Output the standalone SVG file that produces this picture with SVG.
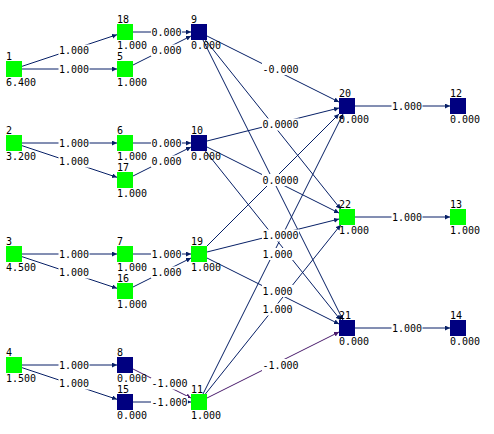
<svg xmlns="http://www.w3.org/2000/svg" width="494" height="434" viewBox="0 0 494 434">
<style>
text{font-family:"DejaVu Sans Mono","Liberation Mono",monospace;font-size:10px;fill:#000}
.g{fill:#00ff00}
.b{fill:#000080}
.e line{stroke:#061f66;stroke-width:1;fill:none;marker-end:url(#ah)}
.e line.neg{stroke:#4a1c6c;marker-end:url(#ahn)}
.lb rect{fill:#fff}
</style>
<defs>
<marker id="ah" markerUnits="userSpaceOnUse" markerWidth="6" markerHeight="6" refX="5" refY="2.5" orient="auto">
<path d="M0,0 L5,2.5 L0,5 Z" fill="#061f66"/>
</marker>
<marker id="ahn" markerUnits="userSpaceOnUse" markerWidth="6" markerHeight="6" refX="5" refY="2.5" orient="auto">
<path d="M0,0 L5,2.5 L0,5 Z" fill="#4a1c6c"/>
</marker>
</defs>
<rect width="494" height="434" fill="#fff"/>
<g id="connectors">
<g class="e">
<line x1="22" y1="66.33" x2="117" y2="34.67"/>
<line x1="22" y1="69" x2="117" y2="69"/>
<line x1="133" y1="32" x2="191" y2="32"/>
<line x1="133" y1="65" x2="191" y2="36"/>
<line x1="22" y1="143" x2="117" y2="143"/>
<line x1="22" y1="145.67" x2="117" y2="177.33"/>
<line x1="133" y1="143" x2="191" y2="143"/>
<line x1="133" y1="176" x2="191" y2="147"/>
<line x1="22" y1="254" x2="117" y2="254"/>
<line x1="22" y1="256.67" x2="117" y2="288.33"/>
<line x1="133" y1="254" x2="191" y2="254"/>
<line x1="133" y1="287" x2="191" y2="258"/>
<line x1="22" y1="365" x2="117" y2="365"/>
<line x1="22" y1="367.67" x2="117" y2="399.33"/>
<line class="neg" x1="133" y1="369" x2="191" y2="398"/>
<line x1="133" y1="402" x2="191" y2="402"/>
<line x1="207" y1="36" x2="339" y2="102"/>
<line x1="205.4" y1="40" x2="340.6" y2="209"/>
<line x1="203" y1="40" x2="343" y2="320"/>
<line x1="207" y1="141" x2="339" y2="108"/>
<line x1="207" y1="147" x2="339" y2="213"/>
<line x1="205.4" y1="151" x2="340.6" y2="320"/>
<line x1="207" y1="246" x2="339" y2="114"/>
<line x1="207" y1="252" x2="339" y2="219"/>
<line x1="207" y1="258" x2="339" y2="324"/>
<line x1="203" y1="394" x2="343" y2="114"/>
<line x1="205.4" y1="394" x2="340.6" y2="225"/>
<line class="neg" x1="207" y1="398" x2="339" y2="332"/>
<line x1="355" y1="106" x2="450" y2="106"/>
<line x1="355" y1="217" x2="450" y2="217"/>
<line x1="355" y1="328" x2="450" y2="328"/>
</g>
<g class="lb">
<rect x="58.5" y="44.5" width="31" height="12"/><text x="59" y="54">1.000</text>
<rect x="58.5" y="63" width="31" height="12"/><text x="59" y="72.5">1.000</text>
<rect x="151" y="26" width="31" height="12"/><text x="151.5" y="35.5">0.000</text>
<rect x="151" y="44.5" width="31" height="12"/><text x="151.5" y="54">0.000</text>
<rect x="58.5" y="137" width="31" height="12"/><text x="59" y="146.5">1.000</text>
<rect x="58.5" y="155.5" width="31" height="12"/><text x="59" y="165">1.000</text>
<rect x="151" y="137" width="31" height="12"/><text x="151.5" y="146.5">0.000</text>
<rect x="151" y="155.5" width="31" height="12"/><text x="151.5" y="165">0.000</text>
<rect x="58.5" y="248" width="31" height="12"/><text x="59" y="257.5">1.000</text>
<rect x="58.5" y="266.5" width="31" height="12"/><text x="59" y="276">1.000</text>
<rect x="151" y="248" width="31" height="12"/><text x="151.5" y="257.5">1.000</text>
<rect x="151" y="266.5" width="31" height="12"/><text x="151.5" y="276">1.000</text>
<rect x="58.5" y="359" width="31" height="12"/><text x="59" y="368.5">1.000</text>
<rect x="58.5" y="377.5" width="31" height="12"/><text x="59" y="387">1.000</text>
<rect x="151" y="377.5" width="37" height="12"/><text x="151.5" y="387">-1.000</text>
<rect x="151" y="396" width="37" height="12"/><text x="151.5" y="405.5">-1.000</text>
<rect x="262" y="63" width="37" height="12"/><text x="262.5" y="72.5">-0.000</text>
<rect x="262" y="118.5" width="37" height="12"/><text x="262.5" y="128">0.0000</text>
<rect x="262" y="174" width="37" height="12"/><text x="262.5" y="183.5">0.0000</text>
<rect x="262" y="229.5" width="37" height="12"/><text x="262.5" y="239">1.0000</text>
<rect x="262" y="248" width="31" height="12"/><text x="262.5" y="257.5">1.000</text>
<rect x="262" y="285" width="31" height="12"/><text x="262.5" y="294.5">1.000</text>
<rect x="262" y="303.5" width="31" height="12"/><text x="262.5" y="313">1.000</text>
<rect x="262" y="359" width="37" height="12"/><text x="262.5" y="368.5">-1.000</text>
<rect x="391.5" y="100" width="31" height="12"/><text x="392" y="109.5">1.000</text>
<rect x="391.5" y="211" width="31" height="12"/><text x="392" y="220.5">1.000</text>
<rect x="391.5" y="322" width="31" height="12"/><text x="392" y="331.5">1.000</text>
</g>
</g>
<g id="node1"><rect class="g" x="6" y="61" width="16" height="16"/><text x="6" y="60">1</text><text x="6" y="85.5">6.400</text></g>
<g id="node2"><rect class="g" x="6" y="135" width="16" height="16"/><text x="6" y="134">2</text><text x="6" y="159.5">3.200</text></g>
<g id="node3"><rect class="g" x="6" y="246" width="16" height="16"/><text x="6" y="245">3</text><text x="6" y="270.5">4.500</text></g>
<g id="node4"><rect class="g" x="6" y="357" width="16" height="16"/><text x="6" y="356">4</text><text x="6" y="381.5">1.500</text></g>
<g id="node18"><rect class="g" x="117" y="24" width="16" height="16"/><text x="117" y="23">18</text><text x="117" y="48.5">1.000</text></g>
<g id="node5"><rect class="g" x="117" y="61" width="16" height="16"/><text x="117" y="60">5</text><text x="117" y="85.5">1.000</text></g>
<g id="node6"><rect class="g" x="117" y="135" width="16" height="16"/><text x="117" y="134">6</text><text x="117" y="159.5">1.000</text></g>
<g id="node17"><rect class="g" x="117" y="172" width="16" height="16"/><text x="117" y="171">17</text><text x="117" y="196.5">1.000</text></g>
<g id="node7"><rect class="g" x="117" y="246" width="16" height="16"/><text x="117" y="245">7</text><text x="117" y="270.5">1.000</text></g>
<g id="node16"><rect class="g" x="117" y="283" width="16" height="16"/><text x="117" y="282">16</text><text x="117" y="307.5">1.000</text></g>
<g id="node8"><rect class="b" x="117" y="357" width="16" height="16"/><text x="117" y="356">8</text><text x="117" y="381.5">0.000</text></g>
<g id="node15"><rect class="b" x="117" y="394" width="16" height="16"/><text x="117" y="393">15</text><text x="117" y="418.5">0.000</text></g>
<g id="node9"><rect class="b" x="191" y="24" width="16" height="16"/><text x="191" y="23">9</text><text x="191" y="48.5">0.000</text></g>
<g id="node10"><rect class="b" x="191" y="135" width="16" height="16"/><text x="191" y="134">10</text><text x="191" y="159.5">0.000</text></g>
<g id="node19"><rect class="g" x="191" y="246" width="16" height="16"/><text x="191" y="245">19</text><text x="191" y="270.5">1.000</text></g>
<g id="node11"><rect class="g" x="191" y="394" width="16" height="16"/><text x="191" y="393">11</text><text x="191" y="418.5">1.000</text></g>
<g id="node20"><rect class="b" x="339" y="98" width="16" height="16"/><text x="339" y="97">20</text><text x="339" y="122.5">0.000</text></g>
<g id="node22"><rect class="g" x="339" y="209" width="16" height="16"/><text x="339" y="208">22</text><text x="339" y="233.5">1.000</text></g>
<g id="node21"><rect class="b" x="339" y="320" width="16" height="16"/><text x="339" y="319">21</text><text x="339" y="344.5">0.000</text></g>
<g id="node12"><rect class="b" x="450" y="98" width="16" height="16"/><text x="450" y="97">12</text><text x="450" y="122.5">0.000</text></g>
<g id="node13"><rect class="g" x="450" y="209" width="16" height="16"/><text x="450" y="208">13</text><text x="450" y="233.5">1.000</text></g>
<g id="node14"><rect class="b" x="450" y="320" width="16" height="16"/><text x="450" y="319">14</text><text x="450" y="344.5">0.000</text></g>
</svg>
